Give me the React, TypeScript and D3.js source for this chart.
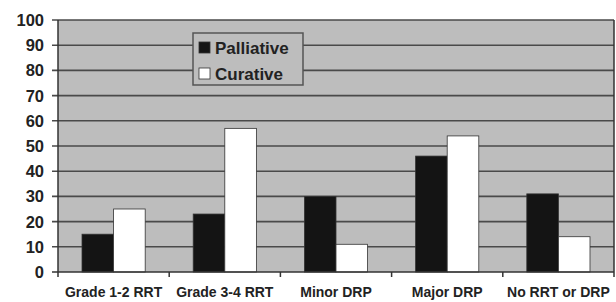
import * as d3 from 'd3';
import React from 'react';

// values (percent)
const categories = ['Grade 1-2 RRT', 'Grade 3-4 RRT', 'Minor DRP', 'Major DRP', 'No RRT or DRP'];
const palliative = [15, 23, 30, 46, 31];
const curative = [25, 57, 11, 54, 14];
const seriesNames = ['Palliative', 'Curative'];
const seriesColors = ['#141414', '#ffffff'];
const yTicks = [0, 10, 20, 30, 40, 50, 60, 70, 80, 90, 100];

const W = 616;
const H = 302;
const margin = { top: 20, right: 2, bottom: 30, left: 58 };

export default function App() {
  const x = d3.scaleBand<string>()
    .domain(categories)
    .range([margin.left, W - margin.right]);
  const inner = d3.scaleBand<string>()
    .domain(seriesNames)
    .range([0, x.bandwidth()])
    .paddingOuter(0.76)
    .paddingInner(0);
  const y = d3.scaleLinear([0, 100], [H - margin.bottom, margin.top]);

  const values = [palliative, curative];
  const font = '"Liberation Sans", Arial, sans-serif';

  return (
    <svg width={W} height={H} style={{ position: 'absolute', left: 0, top: 0 }}>
      {/* plot background */}
      <rect x={margin.left} y={margin.top} width={W - margin.right - margin.left}
        height={y(0) - margin.top} fill="#bdbdbd" />
      {/* gridlines */}
      {yTicks.filter(t => t > 0).map(t => (
        <line key={t} x1={margin.left - 6} x2={W - margin.right} y1={y(t)} y2={y(t)}
          stroke="#4a4a4a" strokeWidth={1.6} />
      ))}
      {/* bars */}
      {categories.map((c, i) => (
        <g key={c} transform={`translate(${x(c)},0)`}>
          {seriesNames.map((s, j) => (
            <rect key={s} x={inner(s)} y={y(values[j][i])} width={inner.bandwidth()}
              height={y(0) - y(values[j][i])} fill={seriesColors[j]}
              stroke="#333" strokeWidth={0.8} />
          ))}
        </g>
      ))}
      {/* right border */}
      <line x1={W - margin.right} x2={W - margin.right} y1={margin.top} y2={y(0)} stroke="#333" strokeWidth={1.5} />
      {/* axes */}
      <line x1={margin.left} x2={margin.left} y1={margin.top} y2={y(0)} stroke="#333" strokeWidth={1.5} />
      <line x1={margin.left - 6} x2={W - margin.right} y1={y(0)} y2={y(0)} stroke="#333" strokeWidth={1.5} />
      {[...categories.map(c => x(c) as number), W - margin.right].map((v, i) => (
        <line key={i} x1={v} x2={v} y1={y(0)} y2={y(0) + 5} stroke="#333" strokeWidth={1.5} />
      ))}
      {yTicks.map(t => (
        <text key={t} x={44} y={y(t)} dy="0.36em" textAnchor="end" fontFamily={font}
          fontWeight="bold" fontSize={16.5} fill="#222">{t}</text>
      ))}
      {categories.map(c => (
        <text key={c} x={(x(c) as number) + x.bandwidth() / 2} y={297} textAnchor="middle"
          fontFamily={font} fontWeight="bold" fontSize={14} fill="#222">{c}</text>
      ))}
      {/* legend */}
      <g>
        <rect x={193} y={33} width={110} height={52} fill="#bdbdbd" stroke="#555" strokeWidth={1.5} />
        {seriesNames.map((s, j) => (
          <g key={s} transform={`translate(199,${42 + j * 26})`}>
            <rect x={0} y={0} width={11} height={11} fill={seriesColors[j]} stroke="#333" strokeWidth={0.8} />
            <text x={16} y={11.5} fontFamily={font} fontWeight="bold" fontSize={17} fill="#222">{s}</text>
          </g>
        ))}
      </g>
    </svg>
  );
}
